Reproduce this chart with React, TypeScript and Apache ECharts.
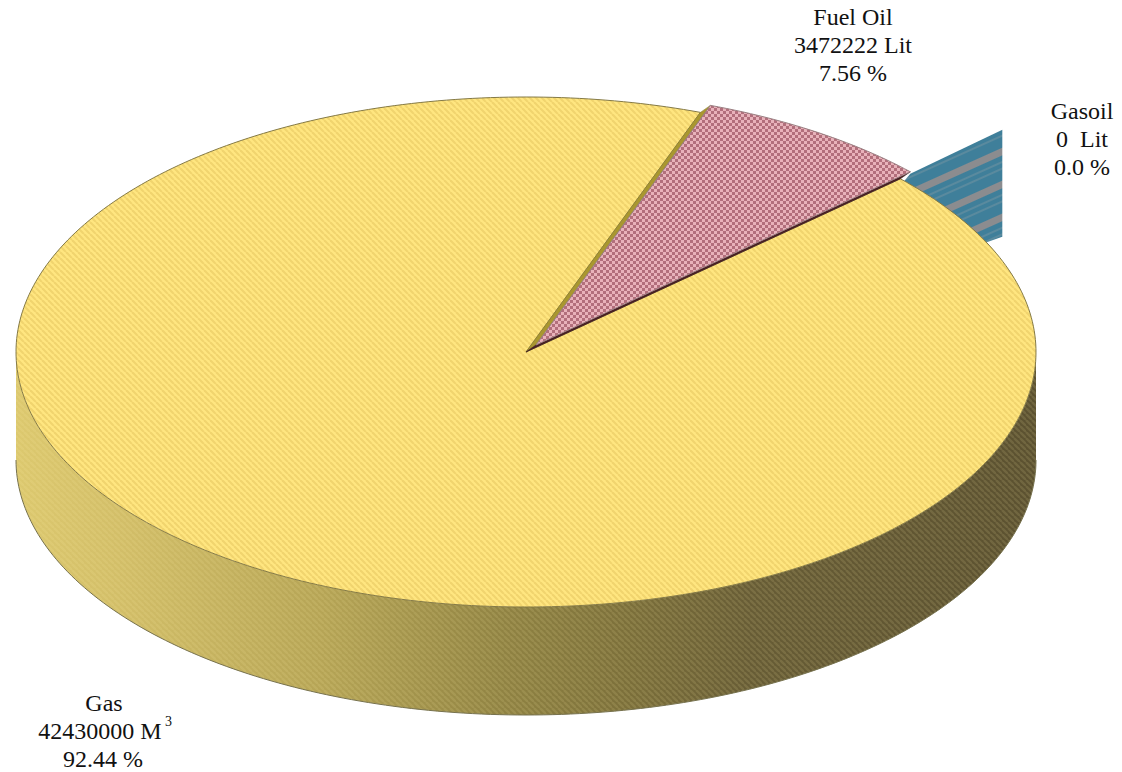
import React, { useEffect, useRef } from "react";
import * as echarts from "echarts";

// ---- data ----
const categories = ["Gas", "Fuel Oil", "Gasoil"];
const amountLabels = ["42430000 M", "3472222 Lit", "0  Lit"];
const percents = [92.44, 7.56, 0.0];
const percentLabels = ["92.44 %", "7.56 %", "0.0 %"];

// ---- projection of the disc ----
const CX = 526;
const CY = 352;
const RX = 510;
const RY = 255;
const DEPTH = 108;
const START_ANGLE = 20; // degrees clockwise from the top, where Fuel Oil begins
const EXPLODE = [10, -7];
const GAS = 0;
const FUEL = 1;
const GASOIL = 2;
const FONT = "'Liberation Serif', 'Times New Roman', serif";
const FONT_SIZE = 24;

const rim = (deg: number, dx = 0, dy = 0): number[] => {
  const r = (deg * Math.PI) / 180;
  return [CX + RX * Math.sin(r) + dx, CY - RY * Math.cos(r) + dy];
};
const arc = (from: number, to: number, dx = 0, dy = 0): number[][] => {
  const pts: number[][] = [];
  const n = Math.max(1, Math.ceil(Math.abs(to - from)));
  for (let i = 0; i <= n; i++) pts.push(rim(from + ((to - from) * i) / n, dx, dy));
  return pts;
};

const tile = (w: number, h: number, draw: (c: CanvasRenderingContext2D) => void) => {
  const cv = document.createElement("canvas");
  cv.width = w;
  cv.height = h;
  draw(cv.getContext("2d") as CanvasRenderingContext2D);
  return cv;
};
const diagonal = (bg: string | null, fg: string, size: number, lw: number) =>
  tile(size, size, (c) => {
    if (bg) {
      c.fillStyle = bg;
      c.fillRect(0, 0, size, size);
    }
    c.strokeStyle = fg;
    c.lineWidth = lw;
    for (const o of [-size, 0, size]) {
      c.beginPath();
      c.moveTo(o, 0);
      c.lineTo(o + size, size);
      c.stroke();
    }
  });

const textEl = (text: string, x: number, y: number, size = FONT_SIZE, align = "center") => ({
  type: "text",
  silent: true,
  style: {
    text,
    x,
    y,
    align,
    verticalAlign: "middle",
    fontFamily: FONT,
    fontSize: size,
    fill: "#111111",
  },
});

const labelBlock = (i: number, x: number, y: number) => [
  textEl(categories[i], x, y),
  textEl(amountLabels[i], x, y + 28),
  textEl(percentLabels[i], x, y + 56),
];

export default function App() {
  const ref = useRef<HTMLDivElement | null>(null);

  useEffect(() => {
    if (!ref.current) return;
    document.body.style.margin = "0";
    const chart = echarts.init(ref.current, undefined, { renderer: "svg", width: 1122, height: 772 });

    const topGas = { image: diagonal("#ffe680", "#f1d46e", 6, 2.2), repeat: "repeat" };
    const wallHatch = { image: diagonal(null, "rgba(255,240,170,0.13)", 6, 2.4), repeat: "repeat" };
    const topFuel = {
      image: tile(6, 6, (c) => {
        c.fillStyle = "#e8b2ba";
        c.fillRect(0, 0, 6, 6);
        c.fillStyle = "#b26f7c";
        c.fillRect(0, 0, 3, 3);
        c.fillRect(3, 3, 3, 3);
      }),
      repeat: "repeat",
    };
    const stripes = {
      image: tile(4, 30, (c) => {
        c.fillStyle = "#3f7f9a";
        c.fillRect(0, 0, 4, 30);
        c.fillStyle = "#5a8a9e";
        c.fillRect(0, 18, 4, 2);
        c.fillRect(0, 24, 4, 2);
        c.fillStyle = "#8b8c8f";
        c.fillRect(0, 6, 4, 7);
      }),
      repeat: "repeat",
      rotation: -Math.atan(0.45),
    };
    const wallGradient = new echarts.graphic.LinearGradient(0, 0, 1, 0, [
      { offset: 0, color: "#dcc86e" },
      { offset: 0.1, color: "#d2be68" },
      { offset: 0.3, color: "#b5a455" },
      { offset: 0.48, color: "#8f8242" },
      { offset: 0.6, color: "#7b6f3a" },
      { offset: 0.72, color: "#675c35" },
      { offset: 1, color: "#5b5130" },
    ]);

    // sweep runs clockwise: Fuel Oil, Gasoil, then Gas
    const fuelEnd = START_ANGLE + (percents[FUEL] / 100) * 360;
    const gasoilEnd = fuelEnd + (percents[GASOIL] / 100) * 360;
    const [ex, ey] = EXPLODE;

    const renderGasoil = (_p: any, api: any) => {
      const a = gasoilEnd - (api.value(0) / 100) * 360;
      const [px, py] = rim(a, ex, ey);
      return {
        type: "group",
        children: [
          {
            type: "polygon",
            silent: true,
            shape: {
              points: [
                [px, py + 2],
                [px + 92, py - 42],
                [px + 92, py + 65],
                [px + 75, py + 71],
                [px - 10, py + 14],
              ],
            },
            style: { fill: stripes },
          },
          ...labelBlock(GASOIL, 1082, 111),
        ],
      };
    };

    const renderGas = (_p: any, api: any) => {
      const from = gasoilEnd;
      const to = from + (api.value(0) / 100) * 360;
      const wall = [...arc(90, 270), ...arc(270, 90, 0, DEPTH)];
      const top = [[CX, CY], ...arc(from, to)];
      return {
        type: "group",
        children: [
          { type: "polygon", silent: true, shape: { points: wall }, style: { fill: wallGradient } },
          { type: "polygon", silent: true, shape: { points: wall }, style: { fill: wallHatch } },
          {
            type: "polyline",
            silent: true,
            shape: { points: arc(270, 90, 0, DEPTH) },
            style: { fill: "none", stroke: "#77724e", lineWidth: 1 },
          },
          {
            type: "polygon",
            silent: true,
            shape: { points: top },
            style: { fill: topGas, stroke: "#857a45", lineWidth: 1 },
          },
          textEl(categories[GAS], 104, 703),
          textEl(amountLabels[GAS], 100, 731),
          textEl("3", 165, 721, 14, "left"),
          textEl(percentLabels[GAS], 103, 759),
        ],
      };
    };

    const renderFuel = (_p: any, api: any) => {
      const from = START_ANGLE;
      const to = from + (api.value(0) / 100) * 360;
      const apexOut = [CX + ex, CY + ey];
      return {
        type: "group",
        children: [
          {
            type: "polygon",
            silent: true,
            shape: { points: [[CX, CY], rim(from), rim(from, ex, ey), apexOut] },
            style: { fill: "#a9972f", stroke: "#8b7c2c", lineWidth: 0.6 },
          },
          {
            type: "polygon",
            silent: true,
            shape: { points: [[CX, CY], apexOut, rim(to, ex, ey), rim(to)] },
            style: { fill: "#4a1f22", stroke: "#3d1a1c", lineWidth: 0.6 },
          },
          {
            type: "polygon",
            silent: true,
            shape: { points: [apexOut, ...arc(from, to, ex, ey)] },
            style: { fill: topFuel, stroke: "#9a7f82", lineWidth: 1 },
          },
          ...labelBlock(FUEL, 853, 17),
        ],
      };
    };

    const layer = (index: number, renderItem: any) => ({
      type: "custom",
      name: categories[index],
      coordinateSystem: "none",
      silent: true,
      data: [percents[index]],
      renderItem,
    });

    chart.setOption({
      animation: false,
      backgroundColor: "#ffffff",
      tooltip: { show: false },
      series: [layer(GASOIL, renderGasoil), layer(GAS, renderGas), layer(FUEL, renderFuel)],
    });
    return () => chart.dispose();
  }, []);

  return <div ref={ref} style={{ width: 1122, height: 772 }} />;
}
